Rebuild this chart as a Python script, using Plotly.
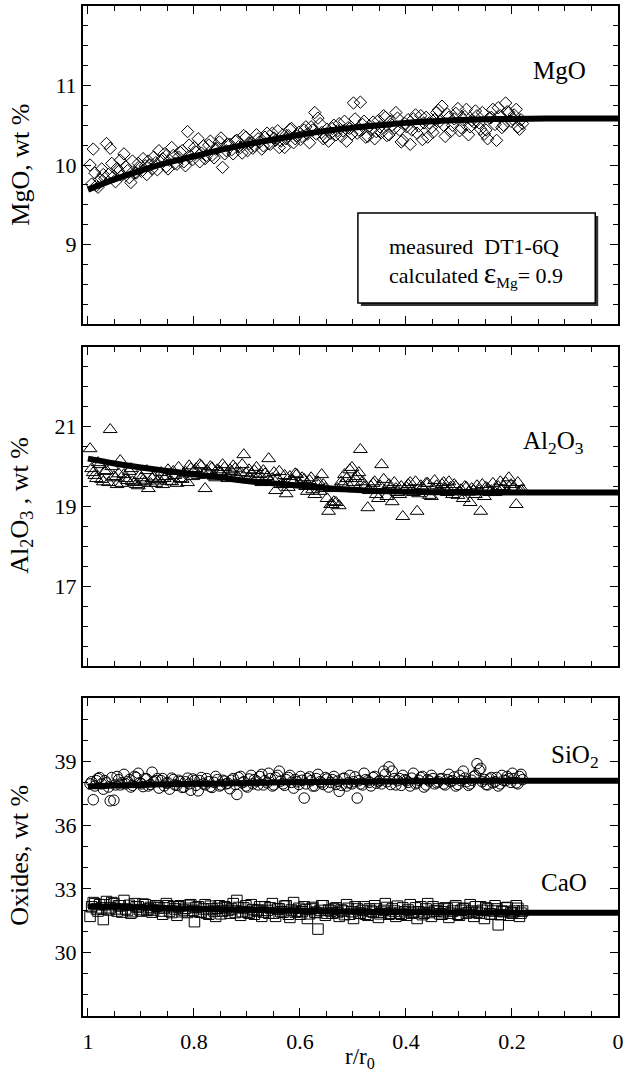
import plotly.graph_objects as go

# Radial positions (r/r0) of the first traverse
r_pos = [
    0.996, 0.990, 0.984, 0.978, 0.971, 0.965, 0.958, 0.951, 0.945, 0.939,
    0.932, 0.925, 0.919, 0.912, 0.905, 0.899, 0.892, 0.886, 0.879, 0.872,
    0.866, 0.859, 0.852, 0.846, 0.839, 0.832, 0.826, 0.819, 0.812, 0.806,
    0.799, 0.792, 0.786, 0.779, 0.772, 0.766, 0.759, 0.752, 0.746, 0.739,
    0.732, 0.726, 0.719, 0.712, 0.706, 0.699, 0.692, 0.686, 0.679, 0.672,
    0.666, 0.659, 0.652, 0.646, 0.639, 0.632, 0.626, 0.619, 0.612, 0.606,
    0.599, 0.592, 0.586, 0.579, 0.572, 0.566, 0.559, 0.552, 0.546, 0.539,
    0.532, 0.526, 0.519, 0.512, 0.506, 0.499, 0.492, 0.486, 0.479, 0.472,
    0.466, 0.459, 0.452, 0.446, 0.439, 0.432, 0.426, 0.419, 0.412, 0.406,
    0.399, 0.392, 0.386, 0.379, 0.372, 0.366, 0.359, 0.352, 0.346, 0.339,
    0.332, 0.326, 0.319, 0.312, 0.306, 0.299, 0.292, 0.286, 0.279, 0.272,
    0.266, 0.259, 0.252, 0.246, 0.239, 0.232, 0.226, 0.219, 0.212, 0.206,
    0.199, 0.192, 0.186, 0.180,
]

# Radial positions (r/r0) of the second traverse
r_pos_b = [
    0.993, 0.987, 0.981, 0.974, 0.968, 0.961, 0.955, 0.948, 0.942, 0.936,
    0.929, 0.922, 0.916, 0.909, 0.902, 0.896, 0.889, 0.882, 0.876, 0.869,
    0.862, 0.856, 0.849, 0.842, 0.836, 0.829, 0.822, 0.816, 0.809, 0.802,
    0.796, 0.789, 0.782, 0.776, 0.769, 0.762, 0.756, 0.749, 0.742, 0.736,
    0.729, 0.722, 0.716, 0.709, 0.702, 0.696, 0.689, 0.682, 0.676, 0.669,
    0.662, 0.656, 0.649, 0.642, 0.636, 0.629, 0.622, 0.616, 0.609, 0.602,
    0.596, 0.589, 0.582, 0.576, 0.569, 0.562, 0.556, 0.549, 0.542, 0.536,
    0.529, 0.522, 0.516, 0.509, 0.502, 0.496, 0.489, 0.482, 0.476, 0.469,
    0.462, 0.456, 0.449, 0.442, 0.436, 0.429, 0.422, 0.416, 0.409, 0.402,
    0.396, 0.389, 0.382, 0.376, 0.369, 0.362, 0.356, 0.349, 0.342, 0.336,
    0.329, 0.322, 0.316, 0.309, 0.302, 0.296, 0.289, 0.282, 0.276, 0.269,
    0.262, 0.256, 0.249, 0.242, 0.236, 0.229, 0.222, 0.216, 0.209, 0.202,
    0.196, 0.189, 0.183,
]

# Measured MgO, wt %
mgo_meas = [
    10.00, 10.20, 9.74, 9.82, 9.88, 10.27, 10.21, 9.86, 9.96, 10.06,
    10.14, 9.93, 9.78, 9.90, 10.02, 9.92, 9.99, 10.05, 9.95, 10.03,
    10.18, 10.08, 9.98, 10.06, 10.12, 10.01, 10.16, 10.04, 10.42, 10.11,
    10.22, 10.33, 10.15, 10.08, 10.25, 10.12, 10.20, 10.29, 9.97, 10.18,
    10.26, 10.14, 10.31, 10.22, 10.37, 10.18, 10.28, 10.24, 10.33, 10.20,
    10.35, 10.27, 10.40, 10.31, 10.22, 10.38, 10.33, 10.45, 10.28, 10.36,
    10.32, 10.44, 10.39, 10.48, 10.66, 10.59, 10.41, 10.35, 10.30, 10.46,
    10.38, 10.52, 10.43, 10.30, 10.46, 10.78, 10.40, 10.79, 10.55, 10.36,
    10.45, 10.33, 10.56, 10.41, 10.60, 10.38, 10.50, 10.66, 10.44, 10.31,
    10.48, 10.26, 10.58, 10.40, 10.62, 10.53, 10.35, 10.47, 10.57, 10.69,
    10.74, 10.36, 10.60, 10.50, 10.65, 10.43, 10.57, 10.70, 10.48, 10.54,
    10.62, 10.45, 10.39, 10.33, 10.60, 10.51, 10.72, 10.47, 10.78, 10.66,
    10.58, 10.70, 10.45, 10.52,
]
mgo_meas_b = [
    9.76, 9.90, 9.72, 9.95, 9.83, 9.88, 10.02, 9.79, 9.92, 9.87,
    9.98, 9.84, 10.05, 9.90, 9.96, 10.08, 9.88, 10.00, 10.10, 9.94,
    10.06, 10.14, 9.95, 10.22, 10.02, 10.10, 10.18, 9.99, 10.25, 10.07,
    10.16, 10.04, 10.24, 10.12, 10.30, 10.09, 10.21, 10.34, 10.14, 10.26,
    10.19, 10.30, 10.23, 10.15, 10.35, 10.27, 10.21, 10.38, 10.29, 10.24,
    10.40, 10.26, 10.34, 10.43, 10.30, 10.22, 10.37, 10.46, 10.33, 10.41,
    10.36, 10.48, 10.28, 10.44, 10.39, 10.52, 10.33, 10.45, 10.40, 10.50,
    10.43, 10.36, 10.55, 10.47, 10.39, 10.58, 10.44, 10.51, 10.35, 10.49,
    10.54, 10.42, 10.48, 10.62, 10.37, 10.55, 10.46, 10.59, 10.29, 10.52,
    10.57, 10.44, 10.63, 10.49, 10.32, 10.60, 10.53, 10.41, 10.66, 10.55,
    10.50, 10.64, 10.42, 10.58, 10.71, 10.47, 10.61, 10.38, 10.56, 10.68,
    10.53, 10.66, 10.44, 10.59, 10.70, 10.31, 10.62, 10.50, 10.67, 10.55,
    10.63, 10.48, 10.57,
]

# Measured Al2O3, wt %
al2o3_meas = [
    20.45, 19.85, 19.70, 20.05, 19.62, 19.90, 20.93, 19.75, 19.55, 20.15,
    19.80, 19.65, 19.95, 19.60, 19.52, 19.72, 19.62, 19.45, 19.70, 19.58,
    19.68, 19.55, 19.75, 19.63, 19.88, 19.58, 19.70, 19.82, 19.60, 19.95,
    19.90, 19.78, 20.02, 19.45, 19.85, 19.97, 19.72, 19.88, 20.05, 19.80,
    19.92, 20.02, 19.76, 19.85, 20.30, 19.68, 19.82, 19.90, 19.74, 19.60,
    19.82, 20.20, 19.70, 19.40, 19.88, 19.55, 19.32, 19.75, 19.62, 19.80,
    19.55, 19.68, 19.38, 19.72, 19.30, 19.62, 19.80, 19.45, 18.88, 19.05,
    19.10, 19.02, 19.55, 19.70, 19.92, 19.60, 19.75, 20.43, 19.50, 18.97,
    19.50, 19.62, 19.20, 20.05, 19.40, 19.55, 19.12, 19.45, 19.30, 18.75,
    19.48, 19.60, 19.35, 18.88, 19.52, 19.42, 19.58, 19.25, 19.65, 19.40,
    19.55, 19.45, 19.62, 19.30, 19.50, 19.38, 19.20, 19.48, 19.10, 19.40,
    19.52, 18.88, 19.25, 19.45, 19.40, 19.35, 19.50, 19.42, 19.60, 19.72,
    19.45, 19.05, 19.38, 19.42,
]
al2o3_meas_b = [
    19.95, 19.78, 20.10, 19.68, 19.88, 19.60, 20.00, 19.72, 19.82, 19.58,
    19.70, 19.88, 19.62, 19.55, 19.78, 19.66, 19.90, 19.58, 19.74, 19.64,
    19.85, 19.70, 19.92, 19.62, 19.78, 19.98, 19.68, 19.86, 20.02, 19.75,
    19.95, 20.05, 19.82, 19.90, 20.00, 19.76, 19.92, 19.85, 19.98, 19.70,
    19.88, 19.96, 19.72, 20.05, 19.84, 19.92, 19.66, 19.98, 19.80, 19.90,
    19.75, 19.62, 19.85, 19.70, 19.55, 19.78, 19.48, 19.66, 19.82, 19.58,
    19.72, 19.50, 19.65, 19.42, 19.60, 19.38, 19.55, 19.20, 19.05, 19.12,
    19.45, 19.62, 19.80, 19.55, 19.98, 19.70, 19.85, 19.62, 19.50, 19.40,
    19.58, 19.30, 19.52, 19.68, 19.25, 19.45, 19.60, 19.35, 19.50, 19.42,
    19.55, 19.40, 19.62, 19.32, 19.48, 19.58, 19.28, 19.45, 19.52, 19.38,
    19.60, 19.35, 19.48, 19.55, 19.28, 19.42, 19.50, 19.36, 19.45, 19.30,
    19.40, 19.55, 19.48, 19.35, 19.58, 19.45, 19.62, 19.50, 19.38, 19.55,
    19.48, 19.60, 19.40,
]

# Measured SiO2, wt %
sio2_meas = [
    37.95, 37.20, 38.10, 38.25, 37.70, 38.00, 37.15, 37.18, 38.30, 37.90,
    38.40, 38.05, 37.80, 38.30, 38.45, 37.95, 38.20, 37.85, 38.50, 38.10,
    37.75, 38.20, 37.98, 37.70, 38.15, 37.88, 38.05, 37.80, 38.22, 37.65,
    38.10, 37.62, 38.25, 37.90, 38.05, 37.78, 38.30, 37.85, 38.12, 37.95,
    37.72, 38.20, 37.45, 38.30, 38.05, 37.80, 38.35, 38.15, 37.90, 38.40,
    38.10, 38.45, 37.85, 38.25, 38.55, 37.95, 38.15, 38.35, 37.75, 38.05,
    38.30, 37.28, 38.20, 38.10, 37.85, 38.40, 38.00, 38.25, 37.80, 38.15,
    37.92, 37.60, 38.20, 37.85, 38.35, 38.05, 37.28, 37.95, 38.45, 38.10,
    37.85, 38.30, 38.05, 37.95, 38.40, 38.75, 38.55, 37.90, 38.20, 38.35,
    38.10, 37.85, 38.45, 38.00, 38.25, 37.80, 38.15, 38.35, 37.95, 38.05,
    38.20, 37.90, 38.40, 38.10, 37.85, 38.35, 38.55, 38.05, 37.95, 38.30,
    38.90, 38.68, 38.15, 37.90, 38.25, 38.05, 37.85, 38.35, 38.10, 38.20,
    38.45, 38.00, 38.30, 38.15,
]
sio2_meas_b = [
    38.05, 37.85, 38.20, 37.95, 38.10, 37.80, 38.25, 37.90, 38.15, 38.00,
    37.95, 38.15, 37.88, 38.25, 38.00, 37.82, 38.18, 37.92, 38.05, 38.20,
    38.10, 37.85, 38.00, 38.22, 37.90, 38.12, 37.78, 38.05, 37.95, 38.18,
    37.88, 38.10, 37.95, 38.20, 37.82, 38.02, 38.15, 37.90, 38.08, 37.98,
    38.12, 37.92, 38.25, 38.00, 37.85, 38.18, 37.95, 38.08, 38.30, 37.90,
    38.00, 38.20, 37.90, 38.35, 38.08, 37.88, 38.25, 38.02, 38.15, 37.92,
    38.12, 37.95, 38.28, 37.85, 38.20, 38.05, 37.92, 38.18, 38.02, 38.30,
    38.08, 37.88, 38.22, 38.00, 37.95, 38.28, 38.10, 37.90, 38.15, 38.02,
    38.25, 37.98, 38.12, 38.55, 38.05, 37.92, 38.20, 38.10, 37.88, 38.15,
    38.02, 38.22, 37.95, 38.12, 38.30, 37.90, 38.08, 38.20, 38.00, 38.18,
    37.95, 38.15, 38.05, 38.28, 37.92, 38.10, 38.22, 37.88, 38.12, 38.35,
    38.60, 38.05, 37.92, 38.18, 38.00, 38.25, 37.95, 38.12, 38.30, 38.02,
    38.20, 37.95, 38.40,
]

# Measured CaO, wt %
cao_meas = [
    31.70, 32.35, 32.05, 32.25, 31.55, 32.40, 32.10, 32.30, 31.95, 32.20,
    32.45, 32.00, 31.85, 32.30, 32.15, 31.95, 32.25, 32.05, 31.90, 32.20,
    32.10, 31.80, 32.30, 31.95, 32.15, 31.75, 32.20, 32.00, 31.88, 32.25,
    31.45, 32.15, 31.90, 32.25, 31.80, 32.05, 31.70, 32.20, 31.95, 32.10,
    31.85, 32.30, 32.45, 31.75, 32.10, 31.90, 32.25, 31.80, 32.00, 31.70,
    32.15, 31.85, 32.30, 31.70, 32.05, 31.90, 32.20, 31.65, 32.35, 31.95,
    31.80, 32.15, 31.60, 32.05, 31.90, 31.10, 32.20, 31.75, 32.00, 31.85,
    32.10, 31.70, 31.95, 32.25, 31.80, 31.60, 32.05, 31.85, 32.15, 31.75,
    31.95, 32.20, 31.65, 31.90, 32.30, 31.80, 32.05, 31.70, 31.85, 32.10,
    31.75, 32.25, 31.90, 31.60, 32.15, 31.85, 32.30, 31.70, 31.95, 32.05,
    31.80, 32.10, 31.65, 31.95, 32.20, 31.75, 32.05, 31.85, 32.25, 31.70,
    31.90, 32.15, 31.60, 32.05, 31.80, 32.20, 31.30, 31.95, 32.10, 31.75,
    31.85, 32.20, 31.70, 31.95,
]
cao_meas_b = [
    32.15, 32.30, 31.95, 32.10, 32.25, 32.00, 32.35, 32.05, 32.20, 31.90,
    32.05, 32.22, 31.92, 32.15, 32.02, 32.28, 31.98, 32.12, 32.00, 32.18,
    31.95, 32.10, 32.20, 31.88, 32.05, 32.15, 31.92, 32.08, 32.22, 31.98,
    32.12, 31.90, 32.05, 31.85, 32.18, 31.95, 32.08, 31.82, 32.15, 31.98,
    32.05, 31.88, 32.12, 31.92, 32.20, 31.85, 32.02, 31.95, 32.15, 31.90,
    31.98, 32.10, 31.85, 32.05, 31.92, 32.18, 31.80, 32.00, 31.90, 32.08,
    31.92, 32.02, 31.82, 32.12, 31.88, 31.98, 32.20, 31.85, 31.95, 32.05,
    31.88, 32.00, 31.78, 32.08, 31.92, 32.15, 31.85, 31.98, 31.80, 32.05,
    31.90, 32.05, 31.82, 31.98, 32.12, 31.85, 31.95, 32.18, 31.80, 31.92,
    32.00, 31.85, 32.10, 31.92, 31.78, 32.05, 31.88, 32.15, 31.95, 31.82,
    31.92, 32.05, 31.85, 32.12, 31.80, 31.98, 32.08, 31.88, 31.95, 32.15,
    31.85, 31.98, 32.10, 31.82, 31.95, 32.05, 31.78, 31.92, 32.12, 31.88,
    31.95, 32.08, 31.85,
]

# Calculated diffusion profiles (eps_Mg = 0.9)
calc_r = [1.0, 0.95, 0.9, 0.85, 0.8, 0.75, 0.7, 0.65, 0.6, 0.55,
          0.5, 0.45, 0.4, 0.35, 0.3, 0.25, 0.2, 0.1, 0.0]
mgo_calc = [9.69, 9.82, 9.93, 10.03, 10.11, 10.19, 10.26, 10.32, 10.38, 10.43,
            10.47, 10.50, 10.53, 10.55, 10.565, 10.575, 10.58, 10.585, 10.585]
al2o3_calc = [20.20, 20.08, 19.98, 19.89, 19.81, 19.73, 19.64, 19.58, 19.52, 19.46,
              19.42, 19.39, 19.37, 19.36, 19.35, 19.35, 19.35, 19.35, 19.35]
sio2_calc = [37.83, 37.87, 37.90, 37.93, 37.95, 37.97, 37.99, 38.01, 38.03, 38.04,
             38.05, 38.06, 38.07, 38.08, 38.09, 38.095, 38.10, 38.10, 38.10]
cao_calc = [32.17, 32.15, 32.12, 32.09, 32.06, 32.03, 32.01, 31.98, 31.96, 31.94,
            31.92, 31.91, 31.90, 31.89, 31.88, 31.875, 31.87, 31.87, 31.87]

FONT = "Liberation Serif"
BLACK = "black"

fig = go.Figure()


def markers(x, y, symbol, size, ax):
    fig.add_trace(go.Scatter(
        x=x, y=y, mode="markers", xaxis="x" + ax, yaxis="y" + ax,
        marker=dict(symbol=symbol, size=size, color=BLACK,
                    line=dict(width=1, color=BLACK)),
        showlegend=False, hoverinfo="skip"))


def curve(x, y, ax):
    fig.add_trace(go.Scatter(
        x=x, y=y, mode="lines", xaxis="x" + ax, yaxis="y" + ax,
        line=dict(color=BLACK, width=6, shape="spline"),
        showlegend=False, hoverinfo="skip"))


markers(r_pos, mgo_meas, "diamond-open", 9.5, "")
markers(r_pos_b, mgo_meas_b, "diamond-open", 9.5, "")
curve(calc_r, mgo_calc, "")
markers(r_pos, al2o3_meas, "triangle-up-open", 12, "2")
markers(r_pos_b, al2o3_meas_b, "triangle-up-open", 12, "2")
curve(calc_r, al2o3_calc, "2")
markers(r_pos, sio2_meas, "circle-open", 10.5, "3")
markers(r_pos_b, sio2_meas_b, "circle-open", 10.5, "3")
markers(r_pos, cao_meas, "square-open", 10.5, "3")
markers(r_pos_b, cao_meas_b, "square-open", 10.5, "3")
curve(calc_r, sio2_calc, "3")
curve(calc_r, cao_calc, "3")

# Figure geometry (pixels)
W, H = 625, 1076
ML, MR, MT, MB = 83, 1, 6, 60
PW, PH = W - ML - MR, H - MT - MB


def py(p):
    """paper y for a pixel row"""
    return (H - MB - p) / PH


def px(p):
    """paper x for a pixel column"""
    return (p - ML) / PW


dom_top = [py(324), py(6)]
dom_mid = [py(666), py(347)]
dom_bot = [py(1016), py(698)]

tickfont = dict(family=FONT, size=22, color=BLACK)


def xaxis(anchor, labels):
    return dict(
        anchor=anchor, domain=[0, 1], range=[1.0093, 0],
        dtick=0.2, tick0=0, ticks="inside", ticklen=8, tickwidth=1,
        tickcolor=BLACK, showticklabels=labels, tickfont=tickfont,
        ticklabelstandoff=5, ticklabeloverflow="allow",
        minor=dict(dtick=0.05, tick0=0, ticks="inside", ticklen=5,
                   tickwidth=1, tickcolor=BLACK),
        showline=True, linewidth=2, linecolor=BLACK, mirror="allticks",
        showgrid=False, zeroline=False,
    )


def yaxis(anchor, dom, rng, vals, minor_step):
    return dict(
        anchor=anchor, domain=dom, range=rng,
        tickmode="array", tickvals=vals,
        ticks="inside", ticklen=8, tickwidth=1, tickcolor=BLACK,
        tickfont=tickfont, ticksuffix="\u2002\u2009",
        minor=dict(tickmode="linear", tick0=rng[0], dtick=minor_step,
                   ticks="inside", ticklen=5, tickwidth=1, tickcolor=BLACK),
        showline=True, linewidth=2, linecolor=BLACK, mirror="allticks",
        showgrid=False, zeroline=False,
    )


fig.update_layout(
    width=W, height=H,
    margin=dict(l=ML, r=MR, t=MT, b=MB),
    paper_bgcolor="white", plot_bgcolor="white",
    font=dict(family=FONT, color=BLACK),
    xaxis=xaxis("y", False),
    xaxis2=xaxis("y2", False),
    xaxis3=xaxis("y3", True),
    yaxis=yaxis("x", dom_top, [8, 12], [9, 10, 11], 0.25),
    yaxis2=yaxis("x2", dom_mid, [15, 23], [17, 19, 21], 0.5),
    yaxis3=yaxis("x3", dom_bot, [27, 42], [30, 33, 36, 39], 1),
)

ann = []


def label(text, x, y, size=25, angle=0, xanchor="center"):
    ann.append(dict(text=text, x=px(x), y=py(y), xref="paper", yref="paper",
                    showarrow=False, textangle=angle, xanchor=xanchor,
                    yanchor="middle",
                    font=dict(family=FONT, size=size, color=BLACK)))


# Axis titles
label("MgO, wt %", 19, 165, size=26, angle=-90)
label("Al<sub>2</sub>O<sub>3</sub> , wt %", 20, 505, size=26, angle=-90)
label("Oxides, wt %", 18, 855, size=26, angle=-90)
label("r/r<sub>0</sub>", 363, 1058, size=23)

# Oxide labels
label("MgO", 565, 71)
label("Al<sub>2</sub>O<sub>3</sub>", 559, 442)
label("SiO<sub>2</sub>", 581, 756)
label("CaO", 569, 882)

# Legend text
label("measured  DT1-6Q", 390, 246, size=22, xanchor="left")
label("calculated <span style=\"font-size:30px\">ε</span><sub>Mg</sub>= 0.9",
      390, 273, size=22, xanchor="left")

fig.update_layout(annotations=ann)

# Legend box with drop shadow
bx0, bx1, by0, by1 = 361, 601, 213, 303
fig.add_shape(type="rect", xref="paper", yref="paper",
              x0=px(bx0 + 3), x1=px(bx1 + 3), y0=py(by1 + 3), y1=py(by0 + 3),
              fillcolor="#333333", line=dict(width=0), layer="above")
fig.add_shape(type="rect", xref="paper", yref="paper",
              x0=px(bx0), x1=px(bx1), y0=py(by1), y1=py(by0),
              fillcolor="white", line=dict(width=1.5, color=BLACK),
              layer="above")

fig.write_html("out.html")
